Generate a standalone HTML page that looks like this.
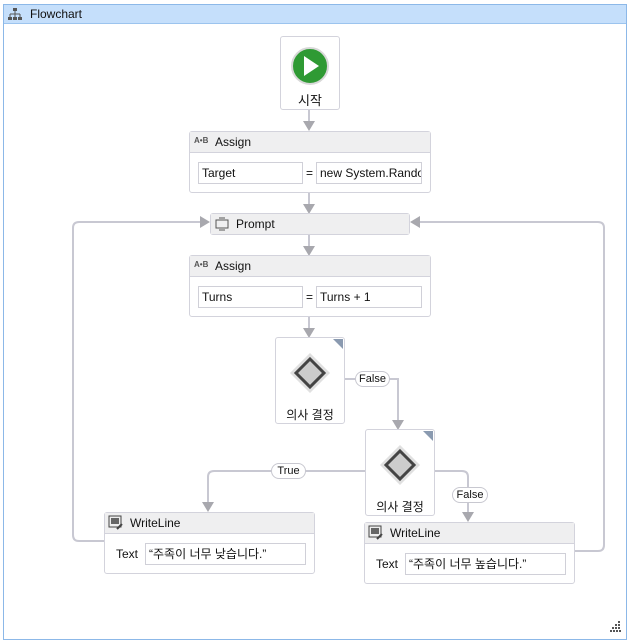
<!DOCTYPE html>
<html><head><meta charset="utf-8">
<style>
*{margin:0;padding:0;box-sizing:border-box}
body{width:629px;height:643px;background:#fff;font-family:"Liberation Sans","Noto Sans CJK KR",sans-serif;font-size:12px;color:#111;position:relative;overflow:hidden}
.a{position:absolute}
.box{position:absolute;background:#fff;border:1px solid #d3d3dc;border-radius:3px}
.hdr{position:absolute;left:0;right:0;top:0;height:21px;background:#efeff0;border-bottom:1px solid #d3d3dc;padding-left:25px;line-height:20px;font-size:12px}
.fld{position:absolute;border:1px solid #d0d0d8;background:#fff;height:22px;line-height:20px;padding-left:3px;font-size:12px;white-space:nowrap;overflow:hidden}
.pill{position:absolute;height:16px;border:1px solid #c8c8d0;border-radius:8px;background:#fff;font-size:11px;line-height:14px;text-align:center}
.ic{position:absolute;left:4px;top:4px;font-size:8px;font-weight:bold;color:#555}
</style></head><body>
<div class="a" style="left:3px;top:4px;width:624px;height:636px;border:1px solid #8cb8e8;background:#fff"></div>
<div class="a" style="left:4px;top:5px;width:622px;height:19px;background:#c5dffb;border-bottom:1px solid #9cc4ee;padding-left:26px;line-height:19px;font-size:12px">Flowchart</div>
<svg class="a" style="left:8px;top:8px" width="14" height="13"><rect x="5" y="0" width="4" height="3" fill="#555"/><path d="M7 3v3M2 6h10M2 6v3M7 6v3M12 6v3" stroke="#555" fill="none"/><rect x="0" y="9" width="4" height="3" fill="#555"/><rect x="5" y="9" width="4" height="3" fill="#555"/><rect x="10" y="9" width="4" height="3" fill="#555"/></svg>

<svg class="a" style="left:0;top:0" width="629" height="643">
<g stroke="#c8c8d2" stroke-width="2" fill="none">
<path d="M309 109V122M309 192V205M309 234V247M309 316V329"/>
<path d="M344 379H398V421"/>
<path d="M365 471H214Q208 471 208 477V502"/>
<path d="M434 471H462Q468 471 468 477V512"/>
<path d="M104 541H79Q73 541 73 535V228Q73 222 79 222H202"/>
<path d="M574 551H598Q604 551 604 545V228Q604 222 598 222H417"/>
</g>
<g fill="#a8a8ae">
<path d="M303 121h12l-6 10z"/><path d="M303 204h12l-6 10z"/><path d="M303 246h12l-6 10z"/><path d="M303 328h12l-6 10z"/>
<path d="M392 420h12l-6 10z"/><path d="M202 502h12l-6 10z"/><path d="M462 512h12l-6 10z"/>
<path d="M200 216v12l10-6z"/><path d="M420 216v12l-10-6z"/>
</g>
</svg>

<div class="box" style="left:280px;top:36px;width:60px;height:74px"></div>
<div class="a" style="left:291px;top:47px;width:38px;height:38px;border-radius:50%;background:#2f9a34;border:2px solid #d8d8d8"></div>
<svg class="a" style="left:302px;top:55px" width="18" height="22"><path d="M2 1L17 11L2 21z" fill="#fff"/></svg>
<div class="a" style="left:280px;top:90px;width:60px;text-align:center;font-size:13px">시작</div>

<div class="box" style="left:189px;top:131px;width:242px;height:62px"><div class="hdr">Assign</div><div class="ic">A•B</div></div>
<div class="fld" style="left:198px;top:162px;width:105px">Target</div>
<div class="a" style="left:306px;top:166px">=</div>
<div class="fld" style="left:316px;top:162px;width:106px">new System.Rando</div>

<div class="box" style="left:210px;top:213px;width:200px;height:22px"><div class="hdr" style="height:20px;border:0;padding-left:25px">Prompt</div></div>
<svg class="a" style="left:215px;top:217px" width="14" height="14"><rect x="1" y="3" width="12" height="8" fill="none" stroke="#555"/><path d="M4 1h6M4 13h6" stroke="#555"/></svg>

<div class="box" style="left:189px;top:255px;width:242px;height:62px"><div class="hdr">Assign</div><div class="ic">A•B</div></div>
<div class="fld" style="left:198px;top:286px;width:105px">Turns</div>
<div class="a" style="left:306px;top:290px">=</div>
<div class="fld" style="left:316px;top:286px;width:106px">Turns + 1</div>

<div class="box" style="left:275px;top:337px;width:70px;height:87px"></div>
<div class="box" style="left:365px;top:429px;width:70px;height:87px"></div>
<svg class="a" style="left:0;top:0" width="629" height="643">
<path d="M333 339h10v10z" fill="#8a9ab0"/><path d="M423 431h10v10z" fill="#8a9ab0"/>
<path d="M310 353l20 20-20 20-20-20z" fill="#e0e0e0"/><path d="M310 359l14 14-14 14-14-14z" fill="#ccc" stroke="#444" stroke-width="3"/>
<path d="M400 445l20 20-20 20-20-20z" fill="#e0e0e0"/><path d="M400 451l14 14-14 14-14-14z" fill="#ccc" stroke="#444" stroke-width="3"/>
</svg>
<div class="a" style="left:275px;top:406px;width:70px;text-align:center">의사 결정</div>
<div class="a" style="left:365px;top:498px;width:70px;text-align:center">의사 결정</div>

<div class="pill" style="left:355px;top:371px;width:35px">False</div>
<div class="pill" style="left:271px;top:463px;width:35px">True</div>
<div class="pill" style="left:452px;top:487px;width:36px">False</div>

<div class="box" style="left:104px;top:512px;width:211px;height:62px"><div class="hdr">WriteLine</div></div>
<svg class="a" style="left:108px;top:515px" width="15" height="15"><rect x="1" y="1" width="12" height="11" fill="#eee" stroke="#444"/><rect x="3" y="3" width="8" height="6" fill="#666"/><path d="M9 14l5-5" stroke="#444" stroke-width="2"/></svg>
<div class="a" style="left:116px;top:547px">Text</div>
<div class="fld" style="left:145px;top:543px;width:161px">“주족이 너무 낮습니다.”</div>

<div class="box" style="left:364px;top:522px;width:211px;height:62px"><div class="hdr">WriteLine</div></div>
<svg class="a" style="left:368px;top:525px" width="15" height="15"><rect x="1" y="1" width="12" height="11" fill="#eee" stroke="#444"/><rect x="3" y="3" width="8" height="6" fill="#666"/><path d="M9 14l5-5" stroke="#444" stroke-width="2"/></svg>
<div class="a" style="left:376px;top:557px">Text</div>
<div class="fld" style="left:405px;top:553px;width:161px">“주족이 너무 높습니다.”</div>

<svg class="a" style="left:610px;top:621px" width="12" height="12" fill="#555"><rect x="8" y="0" width="2" height="2"/><rect x="5" y="3" width="2" height="2"/><rect x="8" y="3" width="2" height="2"/><rect x="2" y="6" width="2" height="2"/><rect x="5" y="6" width="2" height="2"/><rect x="8" y="6" width="2" height="2"/><rect x="0" y="9" width="2" height="2"/><rect x="3" y="9" width="2" height="2"/><rect x="6" y="9" width="2" height="2"/><rect x="9" y="9" width="2" height="2"/></svg>
</body></html>
